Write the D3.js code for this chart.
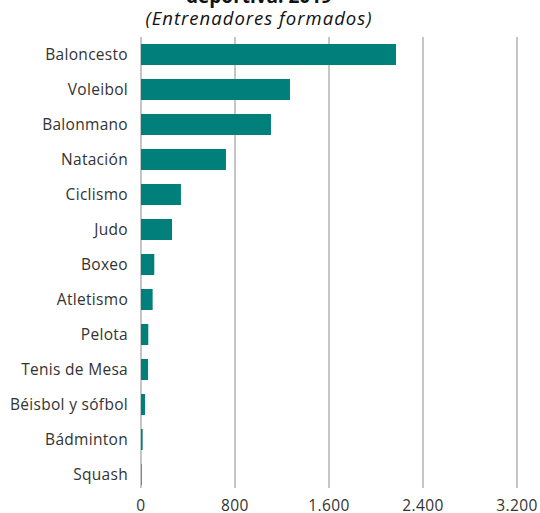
<!DOCTYPE html>
<html>
<head>
<meta charset="utf-8">
<script src="https://cdn.jsdelivr.net/npm/d3@7"></script>
<style>
  body { margin: 0; background: #fff; }
  text { font-family: "Open Sans", Lato, sans-serif; }
</style>
</head>
<body>
<svg width="540" height="513"></svg>
<script>
var svg = d3.select("svg"),
    width = +svg.attr("width"),
    height = +svg.attr("height");

// data
var sports = ["Baloncesto", "Voleibol", "Balonmano", "Natación", "Ciclismo", "Judo", "Boxeo",
  "Atletismo", "Pelota", "Tenis de Mesa", "Béisbol y sófbol", "Bádminton", "Squash"];
var coaches = [2170, 1268, 1106, 723, 340, 264, 113, 99, 62, 60, 34, 14, 5];
var ticks = [0, 800, 1600, 2400, 3200];

var x = d3.scaleLinear()
  .domain([0, 3200])
  .range([141, 517]);

var y = d3.scaleBand()
  .domain(sports)
  .range([37, 492])
  .paddingInner(0.4)
  .paddingOuter(0.2);

// title (first line is off the top of the picture)
svg.append("text")
  .attr("x", 259)
  .attr("y", 3)
  .attr("text-anchor", "middle")
  .attr("font-weight", "bold")
  .attr("font-size", 19)
  .attr("fill", "#111")
  .text("deportiva. 2019");

svg.append("text")
  .attr("x", 259)
  .attr("y", 25)
  .attr("text-anchor", "middle")
  .attr("font-style", "italic")
  .attr("font-size", 18.5)
  .attr("letter-spacing", 1)
  .attr("fill", "#111")
  .text("(Entrenadores formados)");

// vertical grid lines
svg.append("g")
  .selectAll("line")
  .data(ticks)
  .enter().append("line")
  .attr("x1", function(d) { return x(d); })
  .attr("x2", function(d) { return x(d); })
  .attr("y1", 37)
  .attr("y2", 488)
  .attr("stroke", "#b3b3b3")
  .attr("stroke-width", 1.5);

// bars
svg.append("g")
  .selectAll("rect")
  .data(sports)
  .enter().append("rect")
  .attr("x", x(0))
  .attr("y", function(d) { return y(d); })
  .attr("width", function(d, i) { return x(coaches[i]) - x(0); })
  .attr("height", y.bandwidth())
  .attr("fill", "#007f7b");

// category labels
svg.append("g")
  .selectAll("text")
  .data(sports)
  .enter().append("text")
  .attr("x", 128)
  .attr("y", function(d) { return y(d) + y.bandwidth() / 2; })
  .attr("dy", "0.35em")
  .attr("text-anchor", "end")
  .attr("font-size", 15.5)
  .attr("letter-spacing", 0.3)
  .attr("fill", "#333")
  .text(function(d) { return d; });

// x axis tick labels
var fmt = function(d) { return d3.format(",")(d).replace(/,/g, "."); };
svg.append("g")
  .selectAll("text")
  .data(ticks)
  .enter().append("text")
  .attr("x", function(d) { return x(d); })
  .attr("y", 511)
  .attr("text-anchor", "middle")
  .attr("font-size", 15.5)
  .attr("letter-spacing", 0.4)
  .attr("fill", "#333")
  .text(fmt);
</script>
</body>
</html>
